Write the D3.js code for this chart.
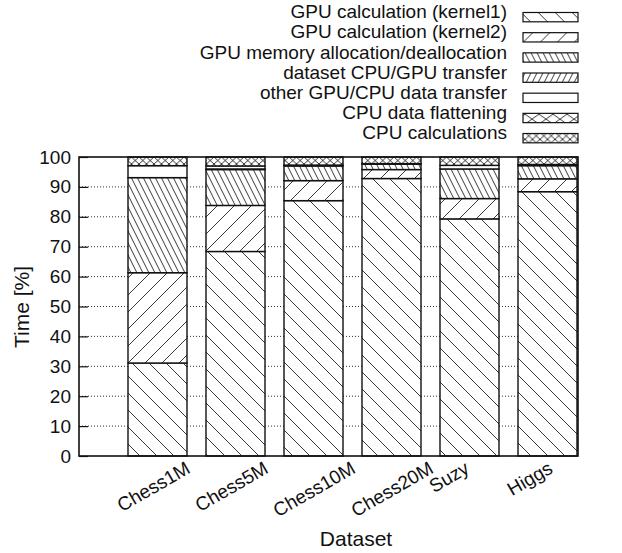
<!DOCTYPE html>
<html>
<head>
<meta charset="utf-8">
<script src="https://cdn.jsdelivr.net/npm/d3@7"></script>
<style>
  body { margin: 0; background: #fff; }
  text { font-family: "Liberation Sans", Arial, sans-serif; fill: #111; }
</style>
</head>
<body>
<div id="chart"></div>
<script>
// data
var datasets = ["Chess1M", "Chess5M", "Chess10M", "Chess20M", "Suzy", "Higgs"];
var seriesNames = ["GPU calculation (kernel1)", "GPU calculation (kernel2)",
  "GPU memory allocation/deallocation", "dataset CPU/GPU transfer",
  "other GPU/CPU data transfer", "CPU data flattening", "CPU calculations"];
var kernel1 = [31.1, 68.4, 85.4, 92.8, 79.3, 88.4];
var kernel2 = [30.2, 15.4, 6.7, 3.0, 6.8, 4.3];
var memAlloc = [31.8, 12.0, 4.9, 1.8, 9.9, 4.4];
var datasetTransfer = [0.0, 0.2, 0.0, 0.2, 0.0, 0.0];
var otherTransfer = [4.0, 1.0, 0.3, 0.0, 1.2, 0.4];
var flattening = [0.0, 0.0, 0.0, 0.0, 0.0, 0.0];
var cpuCalc = [2.9, 3.0, 2.7, 2.2, 2.8, 2.5];
var yTicks = [0, 10, 20, 30, 40, 50, 60, 70, 80, 90, 100];

var seriesValues = [kernel1, kernel2, memAlloc, datasetTransfer, otherTransfer, flattening, cpuCalc];
var rows = datasets.map(function(d, i) {
  var r = { name: d };
  seriesNames.forEach(function(s, j) { r[s] = seriesValues[j][i]; });
  return r;
});

var svgWidth = 622, svgHeight = 553;
var margin = { top: 157, right: 44, bottom: 97, left: 79 };
var chartWidth = svgWidth - margin.left - margin.right;
var chartHeight = svgHeight - margin.top - margin.bottom;

var svg = d3.select("#chart").append("svg")
  .attr("width", svgWidth)
  .attr("height", svgHeight);

// hatch patterns (gnuplot style)
var defs = svg.append("defs");
function linePattern(id, w, h, paths) {
  var p = defs.append("pattern")
    .attr("id", id)
    .attr("patternUnits", "userSpaceOnUse")
    .attr("width", w).attr("height", h);
  p.append("rect").attr("width", w).attr("height", h).attr("fill", "#fff");
  paths.forEach(function(d) {
    p.append("path").attr("d", d)
      .attr("stroke", "#222").attr("stroke-width", 0.9).attr("fill", "none");
  });
}
// sparse backslash
linePattern("p0", 17, 17, ["M-4,-4 L21,21", "M-4,13 L4,21", "M13,-4 L21,4"]);
// sparse slash
linePattern("p1", 17, 17, ["M-4,21 L21,-4", "M-4,4 L4,-4", "M13,21 L21,13"]);
// dense backslash
linePattern("p2", 6, 12, ["M-1,-2 L7,14", "M-4,4 L1,14", "M5,-2 L10,8"]);
// dense slash
linePattern("p3", 6, 12, ["M-1,14 L7,-2", "M-4,8 L1,-2", "M5,14 L10,4"]);
// big crosshatch
linePattern("p5", 14, 10, ["M0,0 L14,10", "M0,10 L14,0"]);
// fine crosshatch
linePattern("p6", 7.5, 7, ["M0,0 L7.5,7", "M0,7 L7.5,0"]);

var fills = ["url(#p0)", "url(#p1)", "url(#p2)", "url(#p3)", "#fff", "url(#p5)", "url(#p6)"];

var chartGroup = svg.append("g")
  .attr("transform", `translate(${margin.left}, ${margin.top})`);

var yScale = d3.scaleLinear()
  .domain([0, 100])
  .range([chartHeight, 0]);

var xScale = d3.scalePoint()
  .domain(datasets)
  .range([78.5, 468.5]);
var barWidth = 59;

// dotted grid
chartGroup.append("g")
  .selectAll("line")
  .data(yTicks.filter(function(t) { return t > 0 && t < 100; }))
  .enter()
  .append("line")
  .attr("x1", 0).attr("x2", chartWidth)
  .attr("y1", function(d) { return yScale(d); })
  .attr("y2", function(d) { return yScale(d); })
  .attr("stroke", "#333")
  .attr("stroke-width", 1)
  .attr("stroke-dasharray", "1,2");

// left ticks + labels
var yAxis = d3.axisLeft(yScale).tickValues(yTicks).tickSize(-9).tickPadding(8);
var yg = chartGroup.append("g").call(yAxis);
yg.select(".domain").remove();
yg.selectAll("line").attr("stroke", "#111").attr("stroke-width", 1.2);
yg.selectAll("text").style("font-size", "19px").attr("fill", "#111")
  .attr("font-family", "Liberation Sans, Arial, sans-serif");

// stacked bars
var stack = d3.stack().keys(seriesNames);
var stacked = stack(rows);

var layers = chartGroup.selectAll(".layer")
  .data(stacked)
  .enter()
  .append("g")
  .attr("class", "layer")
  .attr("fill", function(d, i) { return fills[i]; });

layers.selectAll("rect")
  .data(function(d) { return d.filter(function(v) { return v[1] - v[0] > 0; }); })
  .enter()
  .append("rect")
  .attr("x", function(d) { return xScale(d.data.name) - barWidth / 2; })
  .attr("y", function(d) { return yScale(d[1]); })
  .attr("width", barWidth)
  .attr("height", function(d) { return yScale(d[0]) - yScale(d[1]); })
  .attr("stroke", "#111")
  .attr("stroke-width", 1.4);

// frame
chartGroup.append("rect")
  .attr("x", 0).attr("y", 0)
  .attr("width", chartWidth).attr("height", chartHeight)
  .attr("fill", "none")
  .attr("stroke", "#111")
  .attr("stroke-width", 1.6);

// x labels, rotated
var xAxis = d3.axisBottom(xScale).tickSize(0).tickPadding(0);
var xg = chartGroup.append("g")
  .attr("transform", `translate(0, ${chartHeight})`)
  .call(xAxis);
xg.select(".domain").remove();
xg.selectAll("text")
  .style("font-size", "19px")
  .attr("font-family", "Liberation Sans, Arial, sans-serif")
  .attr("fill", "#111")
  .attr("dy", null)
  .attr("y", 0)
  .attr("text-anchor", "end")
  .attr("transform", function() {
    var L = this.getComputedTextLength();
    return `translate(${-36 + L * Math.cos(Math.PI / 6)}, 16) rotate(-30)`;
  });

// axis titles
svg.append("text")
  .attr("transform", "translate(29, 307) rotate(-90)")
  .attr("text-anchor", "middle")
  .style("font-size", "21px")
  .text("Time [%]");

svg.append("text")
  .attr("x", 356)
  .attr("y", 546)
  .attr("text-anchor", "middle")
  .style("font-size", "21px")
  .text("Dataset");

// legend
var legend = svg.append("g");
var legendItems = legend.selectAll("g")
  .data(seriesNames)
  .enter()
  .append("g")
  .attr("transform", function(d, i) { return `translate(0, ${18.3 + i * 20.17})`; });

legendItems.append("text")
  .attr("x", 507)
  .attr("y", 0)
  .attr("text-anchor", "end")
  .style("font-size", "19px")
  .text(function(d) { return d; });

legendItems.append("rect")
  .attr("x", 523)
  .attr("y", -5.8)
  .attr("width", 55)
  .attr("height", 9.3)
  .attr("fill", function(d, i) { return fills[i]; })
  .attr("stroke", "#111")
  .attr("stroke-width", 1.2);
</script>
</body>
</html>
